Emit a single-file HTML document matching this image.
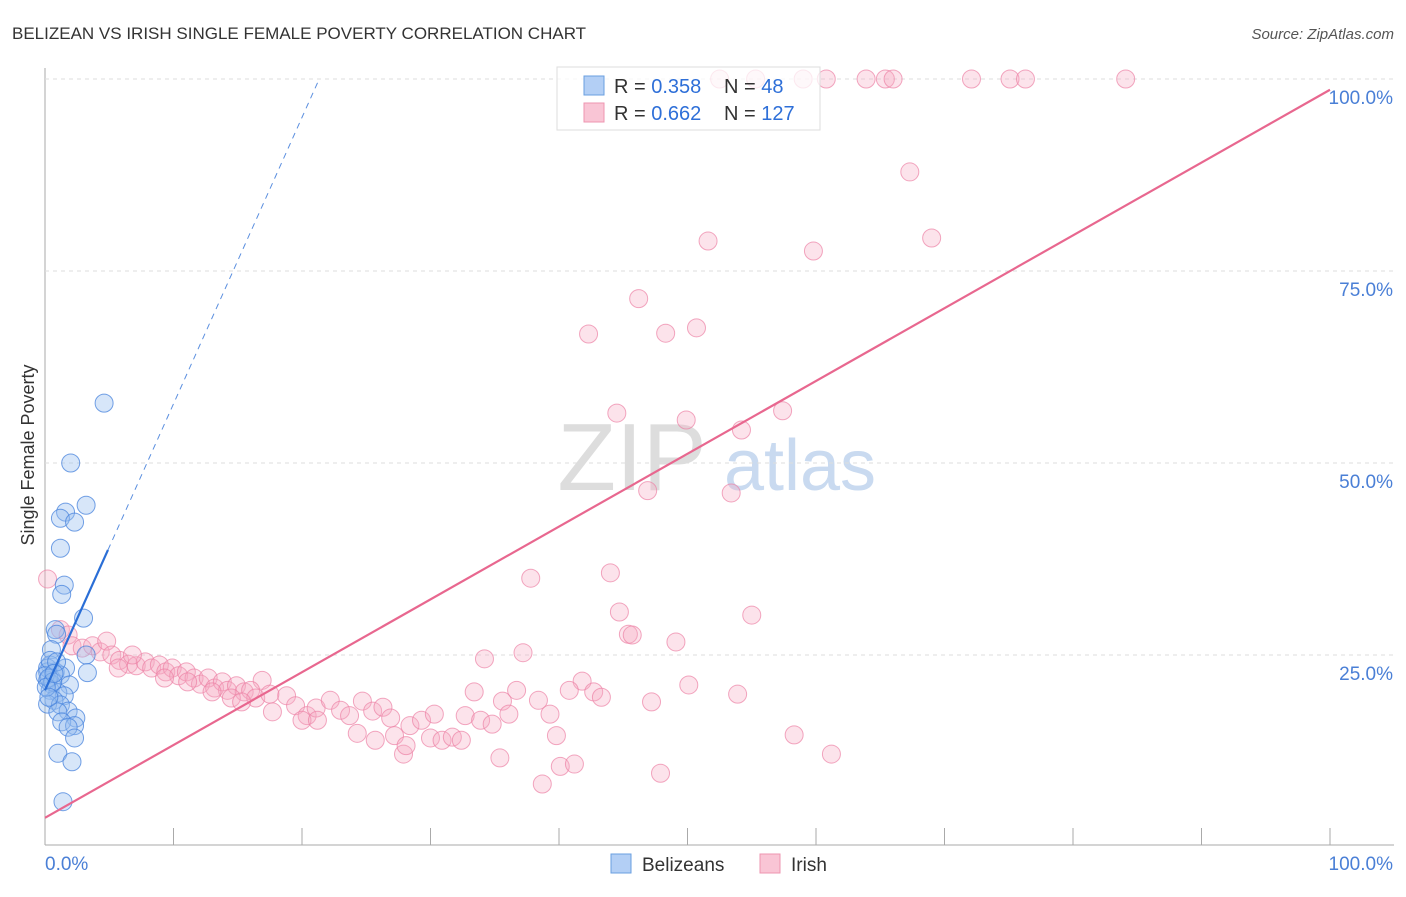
<!DOCTYPE html>
<html><head><meta charset="utf-8"><style>
body{margin:0;background:#fff;font-family:"Liberation Sans",sans-serif;}
svg text{font-family:"Liberation Sans",sans-serif;}
</style></head><body>
<svg width="1406" height="892" id="c">
<text x="12" y="39" font-size="17" fill="#333">BELIZEAN VS IRISH SINGLE FEMALE POVERTY CORRELATION CHART</text>
<text x="1394" y="39" font-size="15" fill="#555" text-anchor="end" font-style="italic">Source: ZipAtlas.com</text>
<text x="0" y="0" transform="translate(34,455) rotate(-90)" font-size="18" fill="#333" text-anchor="middle">Single Female Poverty</text>
<g><text x="632" y="490" font-size="96" fill="#ddd" text-anchor="middle" font-family="Liberation Serif,serif">ZIP</text><text x="800" y="490" font-size="72" fill="#c9daf0" text-anchor="middle">atlas</text></g>
<g id="grid"></g><g id="marks"></g>
<g>
<rect x="557" y="67" width="263" height="63" fill="rgba(255,255,255,0.75)" stroke="#ddd"/>
<rect x="584" y="76" width="20" height="19" fill="#b3cff5" stroke="#6a9fe0"/>
<rect x="584" y="103" width="20" height="19" fill="#f9c5d5" stroke="#ee95b0"/>
<text x="614" y="93" font-size="20" fill="#333">R = <tspan fill="#2e6fd8">0.358</tspan></text>
<text x="724" y="93" font-size="20" fill="#333">N = <tspan fill="#2e6fd8"> 48</tspan></text>
<text x="614" y="120" font-size="20" fill="#333">R = <tspan fill="#2e6fd8">0.662</tspan></text>
<text x="724" y="120" font-size="20" fill="#333">N = <tspan fill="#2e6fd8">127</tspan></text>
</g>
<g>
<rect x="611" y="854" width="20" height="19" fill="#b3cff5" stroke="#6a9fe0"/>
<text x="642" y="871" font-size="19" fill="#333">Belizeans</text>
<rect x="760" y="854" width="20" height="19" fill="#f9c5d5" stroke="#ee95b0"/>
<text x="791" y="871" font-size="19" fill="#333">Irish</text>
</g>
</svg>
<script>
const xTicks=[0,10,20,30,40,50,60,70,80,90,100];
const yTicks=[25,50,75,100];
const yTickLabels=["25.0%","50.0%","75.0%","100.0%"];
const xLabels=["0.0%","100.0%"];
const belX=[4.6,2.0,3.2,1.6,1.2,2.3,1.2,1.5,1.3,3.0,0.8,0.9,3.2,0.5,0.4,0.2,0.8,1.6,3.3,1.2,0.2,0.5,1.9,0.4,1.0,1.5,0.7,0.2,1.2,1.8,1.0,2.4,1.3,2.3,1.8,2.3,1.0,2.1,1.4,0.2,0.4,0.0,0.9,0.3,0.6,0.1,0.7,0.3];
const belY=[57.8,50.0,44.5,43.6,42.8,42.3,38.9,34.1,32.9,29.8,28.3,27.7,25.0,25.7,23.7,22.8,22.8,23.3,22.7,22.4,21.7,21.2,21.1,20.4,20.1,19.7,19.1,18.6,18.5,17.7,17.6,16.8,16.3,15.8,15.6,14.2,12.2,11.1,5.9,23.3,24.3,22.3,24.1,22.0,21.5,20.8,22.6,19.5];
const irX=[52.5,55.3,59.0,60.8,63.9,65.4,66.0,72.1,75.1,76.3,84.1,67.3,51.6,69.0,59.8,46.2,42.3,48.3,50.7,44.5,57.4,49.9,54.2,46.9,53.4,37.8,44.0,44.7,55.0,45.4,45.7,49.1,0.2,1.2,37.2,34.2,41.8,40.8,42.7,43.3,50.1,53.9,47.2,36.7,35.6,33.4,38.4,36.1,39.3,32.7,33.9,34.8,39.8,58.3,61.2,35.4,40.1,41.2,47.9,38.7,
16.9,18.8,17.7,19.5,20.4,21.1,22.2,23.0,23.7,24.7,25.5,26.3,26.9,24.3,25.7,27.2,27.9,28.4,29.3,30.0,30.3,30.9,31.7,32.4,28.1,20.0,21.2,
1.8,2.1,2.9,3.7,4.3,4.8,5.2,5.8,6.5,7.1,7.8,8.3,8.9,9.4,9.9,10.4,11.0,11.6,12.1,12.7,13.2,13.8,14.2,14.9,15.5,16.0,16.4,17.5,6.8,5.7,9.3,11.1,13.0,14.5,15.3];
const irY=[100,100,100,100,100,100,100,100,100,100,100,87.9,78.9,79.3,77.6,71.4,66.8,66.9,67.6,56.5,56.8,55.6,54.3,46.4,46.1,35.0,35.7,30.6,30.2,27.7,27.6,26.7,34.9,28.3,25.3,24.5,21.6,20.4,20.2,19.5,21.1,19.9,18.9,20.4,19.0,20.2,19.1,17.3,17.3,17.1,16.5,16.0,14.5,14.6,12.1,11.6,10.5,10.8,9.6,8.2,
21.7,19.7,17.6,18.4,17.1,18.1,19.1,17.8,17.1,19.0,17.7,18.2,16.8,14.8,13.9,14.5,12.1,15.8,16.5,14.2,17.3,13.9,14.3,13.9,13.2,16.5,16.5,
27.6,26.2,25.9,26.2,25.4,26.8,25.0,24.3,23.8,23.6,24.1,23.3,23.7,22.8,23.3,22.3,22.8,22.0,21.2,22.0,20.7,21.5,20.4,21.0,20.2,20.4,19.4,19.9,25.0,23.3,22.0,21.5,20.2,19.4,18.9];
const belTrend=[20.4,3.73];
const irTrend=[3.8,0.948];
const X=v=>45+v*12.85, Y=v=>847-v*7.68;
const NS="http://www.w3.org/2000/svg";
function mk(t,a,p){const e=document.createElementNS(NS,t);for(const k in a)e.setAttribute(k,a[k]);p.appendChild(e);return e;}
const g=document.getElementById('grid'), m=document.getElementById('marks');
let ax=mk('line',{x1:45,y1:68,x2:45,y2:845,stroke:'#aaa'},g);


let bx=mk('line',{x1:45,y1:845,x2:1394,y2:845,stroke:'#aaa'},g);


yTicks.forEach((v,i)=>{
 let l=mk('line',{x1:45,y1:Y(v),x2:1394,y2:Y(v),stroke:'#ddd','stroke-dasharray':'4,4'},g);
 
 
 let t=mk('text',{x:1393,y:Y(v)+25,'font-size':19,fill:'#4a7fd6','text-anchor':'end'},g);t.textContent=yTickLabels[i];
 
 
});
xTicks.forEach(v=>{
 let l=mk('line',{x1:X(v),y1:828,x2:X(v),y2:845,stroke:'#aaa'},g);
 
 
});
let t0=mk('text',{x:45,y:870,'font-size':19,fill:'#4a7fd6'},g);t0.textContent=xLabels[0];


let t1=mk('text',{x:1393,y:870,'font-size':19,fill:'#4a7fd6','text-anchor':'end'},g);t1.textContent=xLabels[1];


irX.forEach((x,i)=>{
 let c=mk('circle',{cx:X(x),cy:Y(irY[i]),r:9,fill:'rgba(246,170,195,0.33)',stroke:'rgba(236,130,165,0.7)','stroke-width':1},m);
 
 
});
belX.forEach((x,i)=>{
 let c=mk('circle',{cx:X(x),cy:Y(belY[i]),r:9,fill:'rgba(150,190,240,0.38)',stroke:'rgba(70,130,220,0.75)','stroke-width':1},m);
 
 
});
let pl=mk('line',{x1:X(0),y1:Y(irTrend[0]),x2:X(100),y2:Y(irTrend[0]+100*irTrend[1]),stroke:'#e8678f','stroke-width':2.2},m);


const bEnd=(100-belTrend[0])/belTrend[1];
let bl=mk('line',{x1:X(0),y1:Y(belTrend[0]),x2:X(4.9),y2:Y(belTrend[0]+4.9*belTrend[1]),stroke:'#2a6ed6','stroke-width':2.2},m);


let bd=mk('line',{x1:X(4.9),y1:Y(belTrend[0]+4.9*belTrend[1]),x2:X(bEnd),y2:Y(100),stroke:'#5b8fdf','stroke-width':1,'stroke-dasharray':'6,5'},m);


</script>
</body></html>
